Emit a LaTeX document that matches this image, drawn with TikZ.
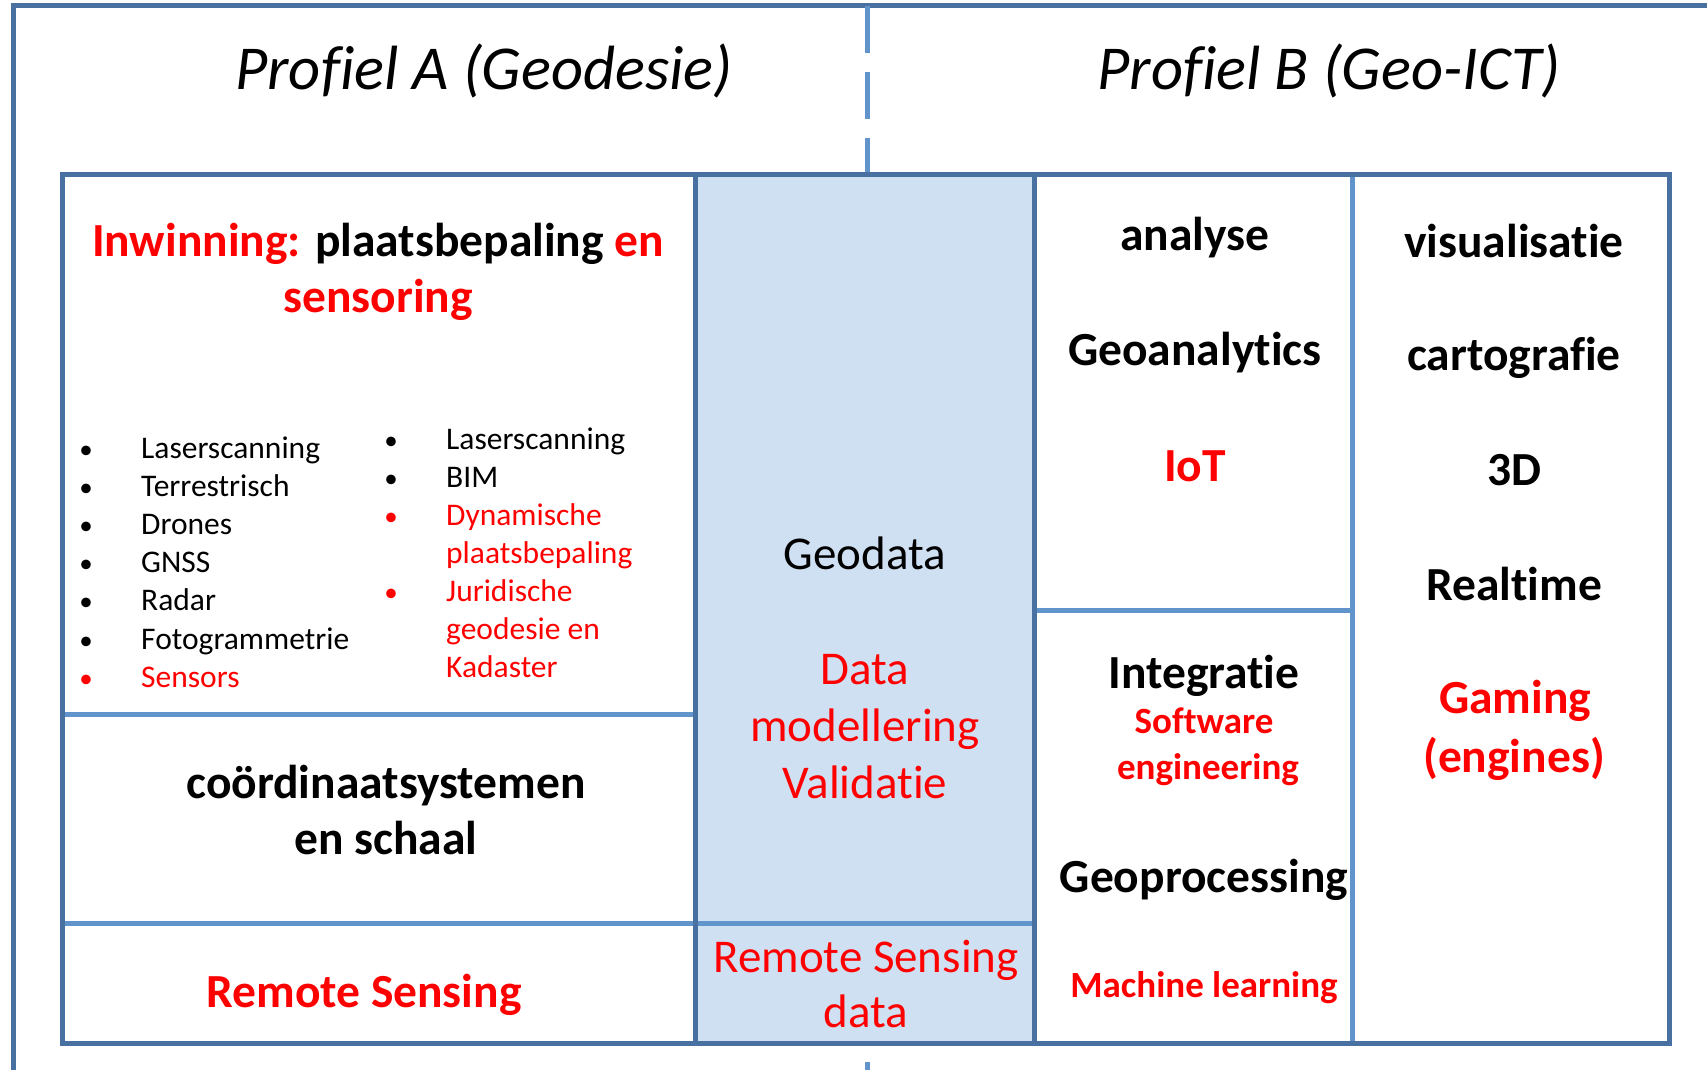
\documentclass[tikz,border=0pt]{standalone}
\usepackage{fontspec}
\setmainfont{Carlito}[Ligatures={NoCommon,NoRare,NoContextual}]
\definecolor{darkblue}{RGB}{72,112,160}
\definecolor{lightblue}{RGB}{98,148,204}
\definecolor{colfill}{RGB}{207,224,242}
\tikzset{
  darkline/.style={draw=darkblue, line width=5pt},
  lightline/.style={draw=lightblue, line width=5pt},
  proftitle/.style={anchor=base, inner sep=0pt, font=\fontsize{62.5}{76}\selectfont\itshape},
  plaintxt/.style={anchor=base, inner sep=0pt, font=\fontsize{47}{57}\selectfont},
  boldtxt/.style={anchor=base, inner sep=0pt, font=\fontsize{47.5}{57}\selectfont\bfseries},
  smallbold/.style={anchor=base, inner sep=0pt, font=\fontsize{37}{45}\selectfont\bfseries},
  listtxt/.style={anchor=base west, inner sep=0pt, font=\fontsize{31.5}{38}\selectfont},
  bul/.style={anchor=base, inner sep=0pt, font=\fontsize{27}{38}\selectfont}
}
\begin{document}
\begin{tikzpicture}[x=1pt, y=-1pt]
  \useasboundingbox (0,0) rectangle (1707,1070);

  \draw[darkline] (13,1080) -- (13,6) -- (1720,6);
  \draw[lightline, dash pattern=on 47pt off 19pt] (867,6) -- (867,1080);
  \fill[colfill] (695,174) rectangle (1034,1043);

  \draw[lightline] (62,714) -- (695,714);
  \draw[lightline] (62,923) -- (1034,923);
  \draw[lightline] (1034,610) -- (1352,610);
  \draw[lightline] (1352,174) -- (1352,1043);
  \draw[darkline] (62,174) rectangle (1669,1043);
  \draw[darkline] (695,174) -- (695,1043);
  \draw[darkline] (1034,174) -- (1034,1043);

  \node[proftitle] (profA) at (484,90) {Profiel A (Geodesie)};
  \node[proftitle] (profB) at (1329,90) {Profiel B (Geo-ICT)};

  \node[boldtxt] (inw1) at (378,256) {\textcolor{red}{Inwinning:} plaatsbepaling \textcolor{red}{en}};
  \node[boldtxt, text=red] (inw2) at (378,312) {sensoring};

  \foreach \txt [count=\i from 0] in {Laserscanning, Terrestrisch, Drones, GNSS, Radar, Fotogrammetrie} {
    \node[bul] (lb\i) at (86,458+38.2*\i) {\textbullet};
    \node[listtxt] (lt\i) at (141,458+38.2*\i) {\txt};
  }
  \node[bul, text=red] (lb6) at (86,687) {\textbullet};
  \node[listtxt, text=red] (lt6) at (141,687) {Sensors};

  \node[bul] (rb0) at (391,449) {\textbullet};
  \node[listtxt] (rt0) at (446,449) {Laserscanning};
  \node[bul] (rb1) at (391,487) {\textbullet};
  \node[listtxt] (rt1) at (446,487) {BIM};
  \node[bul, text=red] (rb2) at (391,525) {\textbullet};
  \node[listtxt, text=red] (rt2) at (446,525) {Dynamische};
  \node[listtxt, text=red] (rt3) at (446,563) {plaatsbepaling};
  \node[bul, text=red] (rb4) at (391,601) {\textbullet};
  \node[listtxt, text=red] (rt4) at (446,601) {Juridische};
  \node[listtxt, text=red] (rt5) at (446,639) {geodesie en};
  \node[listtxt, text=red] (rt6) at (446,677) {Kadaster};

  \node[boldtxt] (coord1) at (386,798) {coördinaatsystemen};
  \node[boldtxt] (coord2) at (386,854) {en schaal};
  \node[boldtxt, text=red] (rs) at (364,1007) {Remote Sensing};

  \node[plaintxt] (geodata) at (865,569) {Geodata};
  \node[plaintxt, text=red] (dm1) at (865,684) {Data};
  \node[plaintxt, text=red] (dm2) at (865,741) {modellering};
  \node[plaintxt, text=red] (dm3) at (865,798) {Validatie};
  \node[plaintxt, text=red] (rsd1) at (866,972) {Remote Sensing};
  \node[plaintxt, text=red] (rsd2) at (866,1027) {data};

  \node[boldtxt] (analyse) at (1195,250) {analyse};
  \node[boldtxt] (geoan) at (1195,365) {Geoanalytics};
  \node[boldtxt, text=red] (iot) at (1195,481) {IoT};
  \node[boldtxt] (integr) at (1204,688) {Integratie};
  \node[smallbold, text=red] (sw1) at (1204,733) {Software};
  \node[smallbold, text=red] (sw2) at (1208,779) {engineering};
  \node[boldtxt] (geoproc) at (1204,892) {Geoprocessing};
  \node[smallbold, text=red] (ml) at (1204,997) {Machine learning};

  \node[boldtxt] (visual) at (1514,257) {visualisatie};
  \node[boldtxt] (carto) at (1514,370) {cartografie};
  \node[boldtxt] (threed) at (1514,485) {3D};
  \node[boldtxt] (realtime) at (1514,600) {Realtime};
  \node[boldtxt, text=red] (gaming1) at (1515,713) {Gaming};
  \node[boldtxt, text=red] (gaming2) at (1514,772) {(engines)};
\end{tikzpicture}
\end{document}
